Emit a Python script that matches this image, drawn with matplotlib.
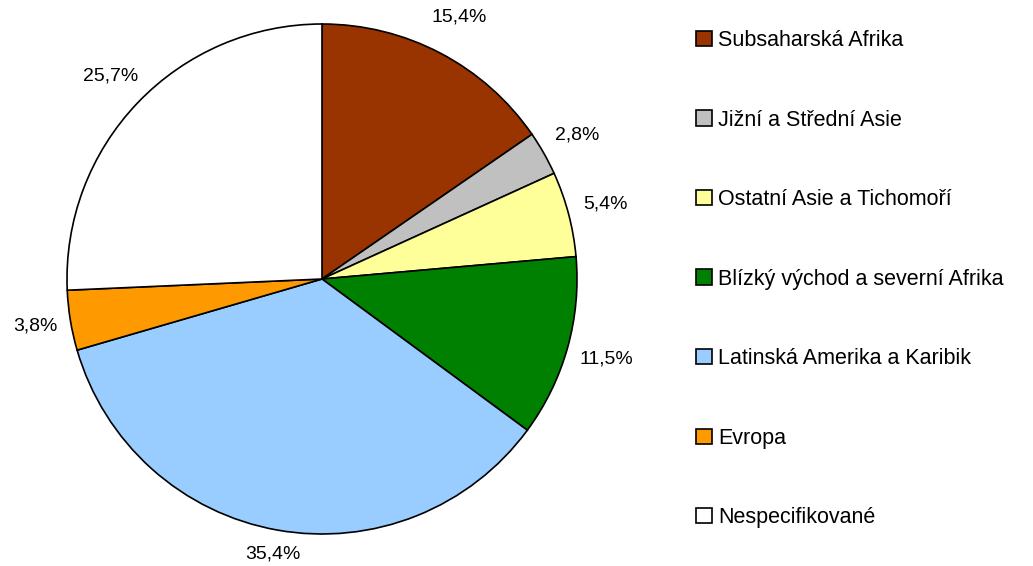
import numpy as np
import matplotlib.pyplot as plt

plt.rcParams['font.family'] = ['Liberation Sans', 'DejaVu Sans']

regions = ['Subsaharská Afrika', 'Jižní a Střední Asie', 'Ostatní Asie a Tichomoří',
           'Blízký východ a severní Afrika', 'Latinská Amerika a Karibik',
           'Evropa', 'Nespecifikované']
shares = [15.4, 2.8, 5.4, 11.5, 35.4, 3.8, 25.7]
colours = ['#993300', '#c0c0c0', '#ffff99', '#008000', '#99ccff', '#ff9900', '#ffffff']

# radial distance of each percentage label (in pie radii)
label_dist = [1.16, 1.15, 1.15, 1.16, 1.095, 1.14, 1.15]

W, H = 1033, 566
fig = plt.figure(figsize=(W / 100, H / 100), dpi=100)

# pie centre ~ (322, 279) px, radius ~255 px
cx, cy, r = 322, 279, 255
ax = fig.add_axes([(cx - r) / W, (H - cy - r) / H, 2 * r / W, 2 * r / H])

wedges, texts, autotexts = ax.pie(
    shares, colors=colours, startangle=90, counterclock=False,
    autopct=lambda p: f'{p:.1f}%'.replace('.', ','), pctdistance=1.15,
    wedgeprops=dict(edgecolor='black', linewidth=1.2),
    textprops=dict(fontsize=14, color='black'))
for w, t, d in zip(wedges, autotexts, label_dist):
    ang = np.deg2rad((w.theta1 + w.theta2) / 2)
    t.set_position((d * np.cos(ang), d * np.sin(ang)))
ax.set_xlim(-1, 1)
ax.set_ylim(-1, 1)

fig.legend(wedges, regions, loc='upper left', bbox_to_anchor=(696 / W, 1 - 30 / H),
           frameon=False, fontsize=15.5, handlelength=0.72, handleheight=0.72,
           handletextpad=0.3, labelspacing=2.72, borderaxespad=0, borderpad=0)

fig.savefig('out.png', dpi=100)
